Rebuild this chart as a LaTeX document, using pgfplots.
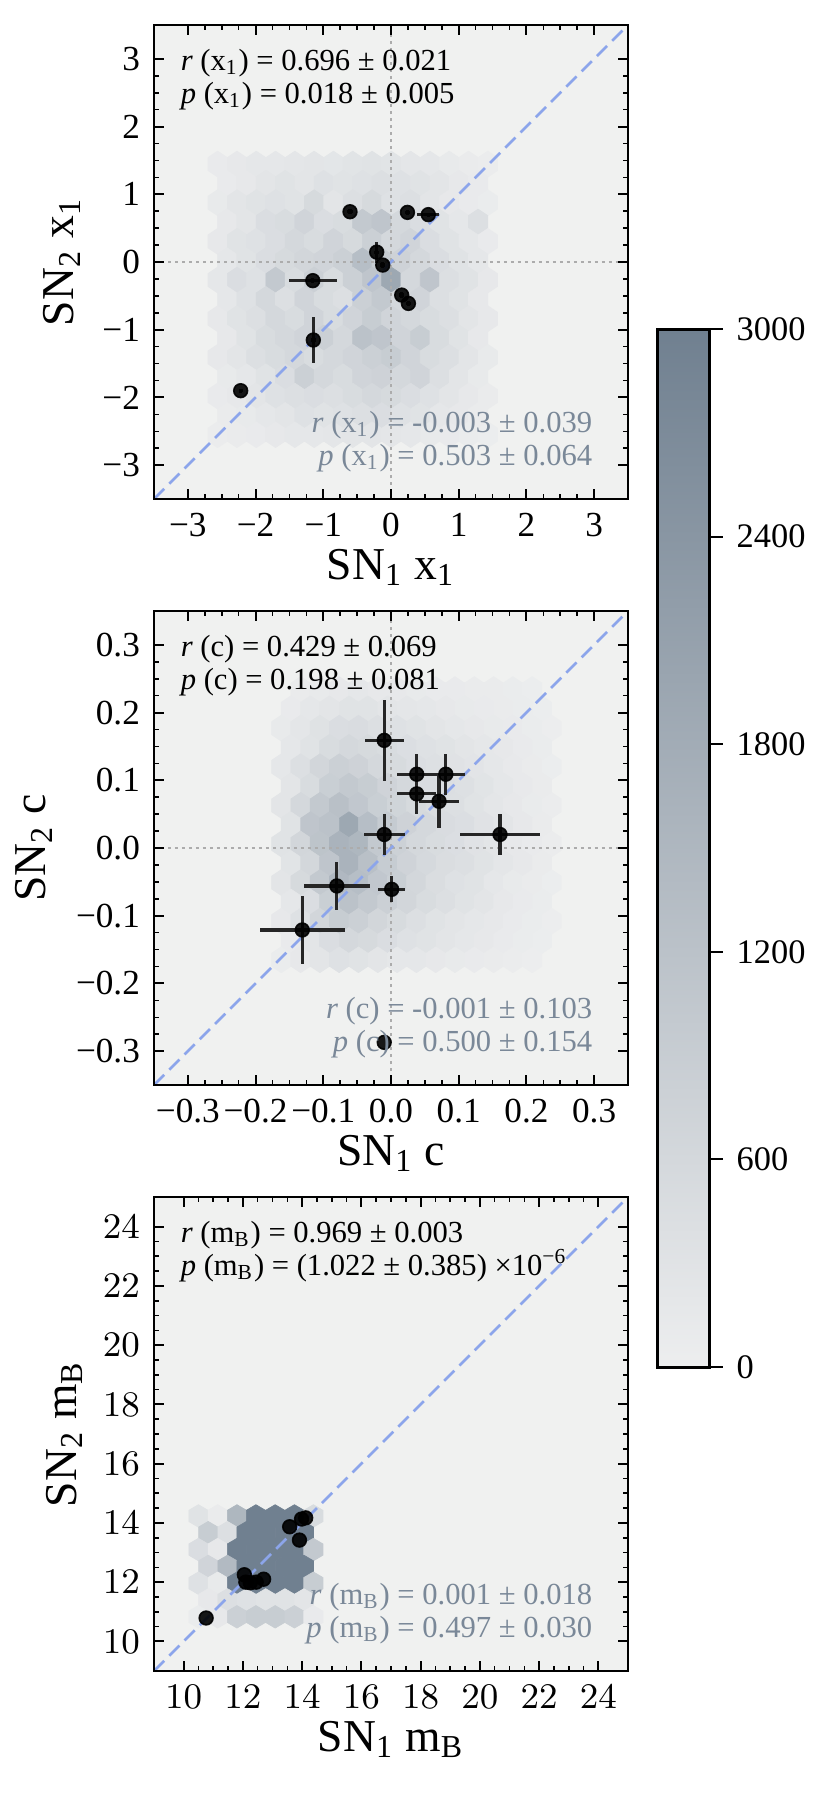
\documentclass[border=0pt]{standalone}
\usepackage{fontspec}
\setmainfont{Liberation Serif}
\usepackage{pgfplots}
\pgfplotsset{compat=1.18}
\usetikzlibrary{calc}

\definecolor{bgcol}{RGB}{240,241,240}
\definecolor{slate}{RGB}{122,136,152}
\definecolor{diagblue}{RGB}{140,165,235}
\definecolor{zerogray}{RGB}{172,172,172}
\definecolor{errcol}{RGB}{38,38,38}

\newcommand\annfont{\fontsize{7.65}{8}\selectfont}

% matplotlib-like hexagon, vertex radius = mark size
\pgfdeclareplotmark{hexa}{%
  \pgfpathmoveto{\pgfqpoint{0pt}{\pgfplotmarksize}}%
  \pgfpathlineto{\pgfqpoint{-0.749\pgfplotmarksize}{0.5\pgfplotmarksize}}%
  \pgfpathlineto{\pgfqpoint{-0.749\pgfplotmarksize}{-0.5\pgfplotmarksize}}%
  \pgfpathlineto{\pgfqpoint{0pt}{-\pgfplotmarksize}}%
  \pgfpathlineto{\pgfqpoint{0.749\pgfplotmarksize}{-0.5\pgfplotmarksize}}%
  \pgfpathlineto{\pgfqpoint{0.749\pgfplotmarksize}{0.5\pgfplotmarksize}}%
  \pgfpathclose\pgfusepathqfillstroke}
\pgfdeclareplotmark{hexb}{%
  \pgfpathmoveto{\pgfqpoint{0pt}{\pgfplotmarksize}}%
  \pgfpathlineto{\pgfqpoint{-0.851\pgfplotmarksize}{0.5\pgfplotmarksize}}%
  \pgfpathlineto{\pgfqpoint{-0.851\pgfplotmarksize}{-0.5\pgfplotmarksize}}%
  \pgfpathlineto{\pgfqpoint{0pt}{-\pgfplotmarksize}}%
  \pgfpathlineto{\pgfqpoint{0.851\pgfplotmarksize}{-0.5\pgfplotmarksize}}%
  \pgfpathlineto{\pgfqpoint{0.851\pgfplotmarksize}{0.5\pgfplotmarksize}}%
  \pgfpathclose\pgfusepathqfillstroke}

\tikzset{ann/.style={font=\annfont, inner sep=0pt}}

\pgfplotsset{
  panel/.style={
    scale only axis, width=118.5pt, height=118.5pt, anchor=south west,
    axis background/.style={fill=bgcol},
    axis line style={line width=0.65pt},
    tick pos=both, tick align=inside,
    xticklabel pos=lower, yticklabel pos=left,
    major tick length=2.4pt, minor tick length=1.3pt,
    major tick style={line width=0.5pt, black},
    minor tick style={line width=0.4pt, black},
    minor tick num=3,
    tick label style={font=\fontsize{8.8}{9}\selectfont},
    every axis x label/.style={at={(rel axis cs:0.5,0)}, anchor=base, yshift=-20pt, font=\fontsize{11.4}{12}\selectfont},
    every axis y label/.style={at={(rel axis cs:0,0.5)}, anchor=base, rotate=90, yshift=20pt, font=\fontsize{11.4}{12}\selectfont},
    colormap={hexgray}{rgb255=(237,238,239) rgb255=(112,128,144)},
    point meta min=0, point meta max=3000,
    clip marker paths=true,
    axis on top,
  },
  hexes/.style={scatter, only marks, mark=hexa, mark size=3.22pt,
    scatter/use mapped color={draw=mapped color, fill=mapped color},
    line width=0.15pt, point meta=explicit},
  zl/.style={zerogray, line width=0.7pt, dash pattern=on 0.7pt off 1.05pt},
  dg/.style={diagblue, line width=0.65pt, dash pattern=on 3.6pt off 1.8pt},
  sn/.style={only marks, mark=*, mark size=1.72pt, black,
    mark options={fill=black, fill opacity=0.9, draw opacity=0.9},
    error bars/.cd, x dir=both, x explicit, y dir=both, y explicit,
    error bar style={line width=0.8pt, errcol}, error mark=none},
}

\begin{document}
\begin{tikzpicture}
\path (0,0) rectangle (207.5pt,-448.25pt);

% ---- x1 panel
\begin{axis}[panel, at={(38.5pt,-124.75pt)},
  xmin=-3.5, xmax=3.5, ymin=-3.5, ymax=3.5,
  xtick={-3,...,3}, ytick={-3,...,3},
  xticklabels={−3,−2,−1,0,1,2,3}, yticklabels={−3,−2,−1,0,1,2,3},
  xlabel={SN\textsubscript{1} x\textsubscript{1}},
  ylabel={SN\textsubscript{2} x\textsubscript{1}}]
\addplot[hexes] table[meta=c] {
x y c
-2.560 1.447 100
-2.275 1.447 150
-1.990 1.447 180
-1.705 1.447 200
-1.420 1.447 220
-1.135 1.447 250
-0.850 1.447 230
-0.565 1.447 280
-0.280 1.447 300
0.005 1.447 280
0.290 1.447 220
0.575 1.447 180
0.860 1.447 120
1.145 1.447 80
1.430 1.447 50
-2.418 1.162 100
-2.133 1.162 150
-1.848 1.162 250
-1.563 1.162 300
-1.278 1.162 250
-0.993 1.162 350
-0.708 1.162 300
-0.423 1.162 350
-0.138 1.162 400
0.147 1.162 350
0.432 1.162 300
0.717 1.162 250
1.002 1.162 150
1.287 1.162 100
-2.560 0.876 120
-2.275 0.876 250
-1.990 0.876 300
-1.705 0.876 350
-1.420 0.876 300
-1.135 0.876 550
-0.850 0.876 250
-0.565 0.876 400
-0.280 0.876 550
0.005 0.876 350
0.290 0.876 400
0.575 0.876 250
0.860 0.876 150
1.145 0.876 100
1.430 0.876 60
-2.418 0.591 150
-2.133 0.591 250
-1.848 0.591 450
-1.563 0.591 500
-1.278 0.591 700
-0.993 0.591 450
-0.708 0.591 500
-0.423 0.591 1000
-0.138 0.591 1100
0.147 0.591 600
0.432 0.591 450
0.717 0.591 300
1.002 0.591 200
1.287 0.591 400
-2.560 0.305 150
-2.275 0.305 300
-1.990 0.305 350
-1.705 0.305 450
-1.420 0.305 600
-1.135 0.305 500
-0.850 0.305 700
-0.565 0.305 550
-0.280 0.305 800
0.005 0.305 600
0.290 0.305 700
0.575 0.305 450
0.860 0.305 300
1.145 0.305 200
1.430 0.305 100
-2.418 0.019 200
-2.133 0.019 300
-1.848 0.019 450
-1.563 0.019 550
-1.278 0.019 650
-0.993 0.019 700
-0.708 0.019 800
-0.423 0.019 1300
-0.138 0.019 900
0.147 0.019 750
0.432 0.019 600
0.717 0.019 450
1.002 0.019 300
1.287 0.019 200
-2.560 -0.266 200
-2.275 -0.266 450
-1.990 -0.266 350
-1.705 -0.266 1000
-1.420 -0.266 500
-1.135 -0.266 800
-0.850 -0.266 500
-0.565 -0.266 800
-0.280 -0.266 1100
0.005 -0.266 1900
0.290 -0.266 600
0.575 -0.266 1100
0.860 -0.266 400
1.145 -0.266 300
1.430 -0.266 150
-2.418 -0.551 200
-2.133 -0.551 350
-1.848 -0.551 600
-1.563 -0.551 400
-1.278 -0.551 700
-0.993 -0.551 500
-0.708 -0.551 400
-0.423 -0.551 800
-0.138 -0.551 1000
0.147 -0.551 600
0.432 -0.551 700
0.717 -0.551 400
1.002 -0.551 300
1.287 -0.551 150
-2.560 -0.837 150
-2.275 -0.837 300
-1.990 -0.837 400
-1.705 -0.837 600
-1.420 -0.837 500
-1.135 -0.837 700
-0.850 -0.837 500
-0.565 -0.837 700
-0.280 -0.837 900
0.005 -0.837 700
0.290 -0.837 600
0.575 -0.837 500
0.860 -0.837 400
1.145 -0.837 250
1.430 -0.837 150
-2.418 -1.122 150
-2.133 -1.122 300
-1.848 -1.122 500
-1.563 -1.122 600
-1.278 -1.122 700
-0.993 -1.122 800
-0.708 -1.122 600
-0.423 -1.122 1200
-0.138 -1.122 1100
0.147 -1.122 700
0.432 -1.122 900
0.717 -1.122 500
1.002 -1.122 300
1.287 -1.122 150
-2.560 -1.408 150
-2.275 -1.408 250
-1.990 -1.408 400
-1.705 -1.408 500
-1.420 -1.408 600
-1.135 -1.408 500
-0.850 -1.408 600
-0.565 -1.408 700
-0.280 -1.408 800
0.005 -1.408 900
0.290 -1.408 700
0.575 -1.408 500
0.860 -1.408 400
1.145 -1.408 250
1.430 -1.408 120
-2.418 -1.693 120
-2.133 -1.693 200
-1.848 -1.693 300
-1.563 -1.693 450
-1.278 -1.693 800
-0.993 -1.693 600
-0.708 -1.693 500
-0.423 -1.693 700
-0.138 -1.693 750
0.147 -1.693 600
0.432 -1.693 700
0.717 -1.693 400
1.002 -1.693 250
1.287 -1.693 120
-2.560 -1.979 100
-2.275 -1.979 150
-1.990 -1.979 250
-1.705 -1.979 350
-1.420 -1.979 400
-1.135 -1.979 450
-0.850 -1.979 400
-0.565 -1.979 500
-0.280 -1.979 600
0.005 -1.979 550
0.290 -1.979 450
0.575 -1.979 350
0.860 -1.979 250
1.145 -1.979 150
1.430 -1.979 80
-2.418 -2.264 80
-2.133 -2.264 120
-1.848 -2.264 200
-1.563 -2.264 250
-1.278 -2.264 350
-0.993 -2.264 300
-0.708 -2.264 350
-0.423 -2.264 400
-0.138 -2.264 450
0.147 -2.264 350
0.432 -2.264 300
0.717 -2.264 200
1.002 -2.264 150
1.287 -2.264 80
-2.560 -2.550 50
-2.275 -2.550 80
-1.990 -2.550 100
-1.705 -2.550 150
-1.420 -2.550 180
-1.135 -2.550 200
-0.850 -2.550 220
-0.565 -2.550 250
-0.280 -2.550 250
0.005 -2.550 220
0.290 -2.550 180
0.575 -2.550 120
0.860 -2.550 100
1.145 -2.550 60
1.430 -2.550 40
};
\addplot[zl] coordinates {(0,-3.5) (0,3.5)};
\addplot[zl] coordinates {(-3.5,0) (3.5,0)};
\addplot[dg] coordinates {(-3.5,-3.5) (3.5,3.5)};
\addplot[sn] coordinates {
(-0.605,0.743) +- (0.04,0.04)
(0.243,0.733) +- (0.04,0.04)
(0.551,0.700) +- (0.16,0.03)
(-0.211,0.146) +- (0.04,0.155)
(-0.122,-0.045) +- (0.04,0.05)
(0.158,-0.488) +- (0.04,0.04)
(0.257,-0.611) +- (0.04,0.04)
(-1.155,-0.275) +- (0.355,0.04)
(-1.147,-1.152) +- (0.04,0.345)
(-2.220,-1.900) +- (0.03,0.03)
};
\node[ann, anchor=base west, xshift=6.5pt, yshift=-11.25pt] at (rel axis cs:0,1) {\textit{r} (x\textsubscript{1}) = 0.696 ± 0.021};
\node[ann, anchor=base west, xshift=6.5pt, yshift=-19.5pt] at (rel axis cs:0,1) {\textit{p} (x\textsubscript{1}) = 0.018 ± 0.005};
\node[ann, anchor=base east, xshift=-8.75pt, yshift=16.75pt, slate] at (rel axis cs:1,0) {\textit{r} (x\textsubscript{1}) = -0.003 ± 0.039};
\node[ann, anchor=base east, xshift=-8.75pt, yshift=8.5pt, slate] at (rel axis cs:1,0) {\textit{p} (x\textsubscript{1}) = 0.503 ± 0.064};
\end{axis}

% ---- c panel
\begin{axis}[panel, at={(38.5pt,-271.25pt)},
  xmin=-0.35, xmax=0.35, ymin=-0.35, ymax=0.35,
  xtick={-0.3,-0.2,...,0.3}, ytick={-0.3,-0.2,...,0.3},
  xticklabels={−0.3,−0.2,−0.1,0.0,0.1,0.2,0.3}, yticklabels={−0.3,−0.2,−0.1,0.0,0.1,0.2,0.3},
  xlabel={SN\textsubscript{1} c},
  ylabel={SN\textsubscript{2} c},
  every axis y label/.append style={yshift=7pt},
  colorbar,
  colorbar style={
    at={($(parent axis.south west)+(117.35pt,-70.5pt)$)}, anchor=south west,
    width=13pt, height=259.5pt,
    ytick={0,600,1200,1800,2400,3000},
    yticklabels={0,600,1200,1800,2400,3000},
    scaled y ticks=false,
    axis line style={line width=0.75pt},
    tick align=outside, ytick pos=right, yticklabel pos=right,
    major tick length=3.25pt, major tick style={line width=0.5pt, black},
    minor tick num=0,
    tick label style={font=\fontsize{8.6}{9}\selectfont},
  }]
\addplot[hexes] table[meta=c] {
x y c
-0.1335 0.234 80
-0.1050 0.234 120
-0.0765 0.234 150
-0.0480 0.234 180
-0.0195 0.234 150
0.0090 0.234 150
0.0375 0.234 120
0.0660 0.234 100
0.0945 0.234 100
0.1230 0.234 80
0.1515 0.234 80
0.1800 0.234 60
0.2085 0.234 40
-0.148 0.2055 100
-0.119 0.2055 180
-0.091 0.2055 250
-0.062 0.2055 300
-0.034 0.2055 300
-0.005 0.2055 250
0.024 0.2055 220
0.052 0.2055 200
0.081 0.2055 150
0.109 0.2055 120
0.138 0.2055 100
0.166 0.2055 80
0.195 0.2055 60
0.223 0.2055 40
-0.1620 0.177 120
-0.1335 0.177 220
-0.1050 0.177 330
-0.0765 0.177 450
-0.0480 0.177 480
-0.0195 0.177 400
0.0090 0.177 350
0.0375 0.177 300
0.0660 0.177 250
0.0945 0.177 200
0.1230 0.177 150
0.1515 0.177 120
0.1800 0.177 100
0.2085 0.177 60
0.2370 0.177 30
-0.148 0.1485 180
-0.119 0.1485 300
-0.091 0.1485 500
-0.062 0.1485 600
-0.034 0.1485 550
-0.005 0.1485 500
0.024 0.1485 420
0.052 0.1485 350
0.081 0.1485 300
0.109 0.1485 250
0.138 0.1485 200
0.166 0.1485 150
0.195 0.1485 100
0.223 0.1485 60
-0.1620 0.120 200
-0.1335 0.120 400
-0.1050 0.120 650
-0.0765 0.120 800
-0.0480 0.120 750
-0.0195 0.120 600
0.0090 0.120 520
0.0375 0.120 420
0.0660 0.120 380
0.0945 0.120 320
0.1230 0.120 260
0.1515 0.120 200
0.1800 0.120 130
0.2085 0.120 80
0.2370 0.120 40
-0.148 0.0915 250
-0.119 0.0915 500
-0.091 0.0915 850
-0.062 0.0915 1000
-0.034 0.0915 900
-0.005 0.0915 720
0.024 0.0915 600
0.052 0.0915 480
0.081 0.0915 420
0.109 0.0915 380
0.138 0.0915 280
0.166 0.0915 200
0.195 0.0915 130
0.223 0.0915 80
-0.1620 0.063 250
-0.1335 0.063 600
-0.1050 0.063 1000
-0.0765 0.063 1250
-0.0480 0.063 1050
-0.0195 0.063 850
0.0090 0.063 680
0.0375 0.063 550
0.0660 0.063 460
0.0945 0.063 400
0.1230 0.063 300
0.1515 0.063 220
0.1800 0.063 150
0.2085 0.063 90
0.2370 0.063 50
-0.148 0.0345 300
-0.119 0.0345 1100
-0.091 0.0345 1200
-0.062 0.0345 1900
-0.034 0.0345 1300
-0.005 0.0345 950
0.024 0.0345 750
0.052 0.0345 600
0.081 0.0345 480
0.109 0.0345 420
0.138 0.0345 320
0.166 0.0345 240
0.195 0.0345 150
0.223 0.0345 80
-0.1620 0.006 300
-0.1335 0.006 650
-0.1050 0.006 1150
-0.0765 0.006 1600
-0.0480 0.006 1500
-0.0195 0.006 1000
0.0090 0.006 780
0.0375 0.006 600
0.0660 0.006 500
0.0945 0.006 420
0.1230 0.006 320
0.1515 0.006 250
0.1800 0.006 150
0.2085 0.006 100
0.2370 0.006 50
-0.148 -0.0225 280
-0.119 -0.0225 620
-0.091 -0.0225 1100
-0.062 -0.0225 1600
-0.034 -0.0225 1250
-0.005 -0.0225 920
0.024 -0.0225 720
0.052 -0.0225 570
0.081 -0.0225 460
0.109 -0.0225 400
0.138 -0.0225 300
0.166 -0.0225 210
0.195 -0.0225 150
0.223 -0.0225 80
-0.1620 -0.051 250
-0.1335 -0.051 550
-0.1050 -0.051 1000
-0.0765 -0.051 1450
-0.0480 -0.051 1300
-0.0195 -0.051 1050
0.0090 -0.051 850
0.0375 -0.051 620
0.0660 -0.051 460
0.0945 -0.051 360
0.1230 -0.051 300
0.1515 -0.051 200
0.1800 -0.051 120
0.2085 -0.051 80
0.2370 -0.051 40
-0.148 -0.0795 200
-0.119 -0.0795 450
-0.091 -0.0795 850
-0.062 -0.0795 1200
-0.034 -0.0795 1000
-0.005 -0.0795 820
0.024 -0.0795 650
0.052 -0.0795 500
0.081 -0.0795 400
0.109 -0.0795 300
0.138 -0.0795 240
0.166 -0.0795 150
0.195 -0.0795 100
0.223 -0.0795 60
-0.1620 -0.108 150
-0.1335 -0.108 350
-0.1050 -0.108 650
-0.0765 -0.108 900
-0.0480 -0.108 800
-0.0195 -0.108 650
0.0090 -0.108 520
0.0375 -0.108 400
0.0660 -0.108 300
0.0945 -0.108 250
0.1230 -0.108 200
0.1515 -0.108 150
0.1800 -0.108 100
0.2085 -0.108 60
0.2370 -0.108 30
-0.148 -0.1365 100
-0.119 -0.1365 250
-0.091 -0.1365 450
-0.062 -0.1365 600
-0.034 -0.1365 550
-0.005 -0.1365 450
0.024 -0.1365 350
0.052 -0.1365 300
0.081 -0.1365 250
0.109 -0.1365 200
0.138 -0.1365 150
0.166 -0.1365 100
0.195 -0.1365 60
0.223 -0.1365 40
-0.1620 -0.165 60
-0.1335 -0.165 150
-0.1050 -0.165 250
-0.0765 -0.165 350
-0.0480 -0.165 300
-0.0195 -0.165 250
0.0090 -0.165 200
0.0375 -0.165 180
0.0660 -0.165 150
0.0945 -0.165 120
0.1230 -0.165 100
0.1515 -0.165 80
0.1800 -0.165 50
0.2085 -0.165 30
};
\addplot[zl] coordinates {(0,-0.35) (0,0.35)};
\addplot[zl] coordinates {(-0.35,0) (0.35,0)};
\addplot[dg] coordinates {(-0.35,-0.35) (0.35,0.35)};
\addplot[sn] coordinates {
(-0.010,0.159) +- (0.029,0.060)
(0.038,0.109) +- (0.029,0.030)
(0.081,0.109) +- (0.029,0.030)
(0.038,0.080) +- (0.029,0.030)
(0.071,0.069) +- (0.030,0.040)
(-0.010,0.020) +- (0.030,0.030)
(0.161,0.020) +- (0.059,0.030)
(-0.080,-0.056) +- (0.049,0.036)
(0.001,-0.061) +- (0.020,0.019)
(-0.131,-0.121) +- (0.063,0.050)
(-0.010,-0.287) +- (0,0)
};
\node[ann, anchor=base west, xshift=6.5pt, yshift=-11.25pt] at (rel axis cs:0,1) {\textit{r} (c) = 0.429 ± 0.069};
\node[ann, anchor=base west, xshift=6.5pt, yshift=-19.5pt] at (rel axis cs:0,1) {\textit{p} (c) = 0.198 ± 0.081};
\node[ann, anchor=base east, xshift=-8.75pt, yshift=16.75pt, slate] at (rel axis cs:1,0) {\textit{r} (c) = -0.001 ± 0.103};
\node[ann, anchor=base east, xshift=-8.75pt, yshift=8.5pt, slate] at (rel axis cs:1,0) {\textit{p} (c) = 0.500 ± 0.154};
\end{axis}

% ---- mB panel
\begin{axis}[panel, at={(38.5pt,-417.75pt)},
  xmin=9, xmax=25, ymin=9, ymax=25,
  xtick={10,12,...,24}, ytick={10,12,...,24},
  xlabel={SN\textsubscript{1} m\textsubscript{B}},
  ylabel={SN\textsubscript{2} m\textsubscript{B}},
  every axis y label/.append style={yshift=-0.5pt}]
\addplot[hexes, mark=hexb, mark size=2.82pt] table[meta=c] {
x y c
10.50 14.235 300
11.15 14.235 80
11.80 14.235 1500
12.44 14.235 3000
13.09 14.235 3000
13.74 14.235 3000
14.38 14.235 500
10.83 13.67 900
11.48 13.67 400
12.12 13.67 3000
12.77 13.67 3000
13.42 13.67 3000
14.06 13.67 3000
10.50 13.10 450
11.15 13.10 150
11.80 13.10 3000
12.44 13.10 3000
13.09 13.10 3000
13.74 13.10 3000
14.38 13.10 1000
10.83 12.53 700
11.48 12.53 1400
12.12 12.53 3000
12.77 12.53 3000
13.42 12.53 3000
14.06 12.53 3000
10.50 11.965 350
11.15 11.965 120
11.80 11.965 3000
12.44 11.965 3000
13.09 11.965 3000
13.74 11.965 3000
14.38 11.965 900
10.83 11.40 150
11.48 11.40 400
12.12 11.40 350
12.77 11.40 300
13.42 11.40 300
14.06 11.40 250
10.50 10.83 60
11.15 10.83 150
11.80 10.83 800
12.44 10.83 900
13.09 10.83 900
13.74 10.83 800
14.38 10.83 100
};
\addplot[dg] coordinates {(9,9) (25,25)};
\addplot[sn] coordinates {
(10.76,10.79) +- (0,0)
(12.05,12.25) +- (0,0)
(12.10,12.00) +- (0,0)
(12.25,11.98) +- (0,0)
(12.45,12.00) +- (0,0)
(12.70,12.10) +- (0,0)
(13.58,13.87) +- (0,0)
(13.91,13.42) +- (0,0)
(13.98,14.13) +- (0,0)
(14.12,14.17) +- (0,0)
};
\node[ann, anchor=base west, xshift=6.5pt, yshift=-11.25pt] at (rel axis cs:0,1) {\textit{r} (m\textsubscript{B}) = 0.969 ± 0.003};
\node[ann, anchor=base west, xshift=6.5pt, yshift=-19.5pt] at (rel axis cs:0,1) {\textit{p} (m\textsubscript{B}) = (1.022 ± 0.385) ×10\textsuperscript{−6}};
\node[ann, anchor=base east, xshift=-8.75pt, yshift=16.75pt, slate] at (rel axis cs:1,0) {\textit{r} (m\textsubscript{B}) = 0.001 ± 0.018};
\node[ann, anchor=base east, xshift=-8.75pt, yshift=8.5pt, slate] at (rel axis cs:1,0) {\textit{p} (m\textsubscript{B}) = 0.497 ± 0.030};
\end{axis}
\pgfresetboundingbox
\useasboundingbox (0,0) rectangle (207.5pt,-448.25pt);
\end{tikzpicture}
\end{document}
